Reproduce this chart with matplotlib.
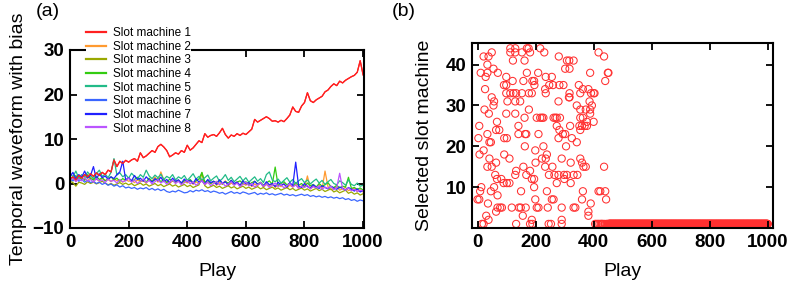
import numpy as np
import matplotlib
matplotlib.use("Agg")
import matplotlib.pyplot as plt

plt.rcParams['font.family'] = ['Liberation Sans', 'DejaVu Sans']

# ---------------- data: panel (a), values every 10 plays ----------------
labels = ["Slot machine 1", "Slot machine 2", "Slot machine 3", "Slot machine 4",
          "Slot machine 5", "Slot machine 6", "Slot machine 7", "Slot machine 8"]
colors = ["#ff2020", "#ff9a30", "#9aa800", "#33cc11", "#22bb88", "#3a66ff", "#2020ff", "#bb55ff"]

s1 = [1.0, 1.5, 0.8, 1.8, 1.2, 2.0, 1.5, 2.2, 1.6, 2.4, 1.8, 2.5, 2.0, 3.0, 2.6, 5.3, 3.8, 5.0, 4.5, 5.2,
      4.8, 5.3, 5.6, 5.0, 6.9, 5.8, 6.2, 6.8, 7.4, 7.0, 8.3, 8.8, 8.2, 7.4, 6.0, 6.4, 6.9, 6.6, 7.4, 7.0,
      8.6, 7.5, 8.0, 8.8, 9.6, 9.2, 11.2, 10.4, 10.8, 11.0, 10.6, 11.4, 12.4, 11.0, 10.2, 10.9, 10.6, 11.2, 10.8, 11.3,
      11.0, 11.6, 12.2, 14.4, 13.8, 14.2, 14.6, 15.0, 14.6, 14.0, 14.1, 13.8, 14.2, 13.9, 14.6, 15.4, 17.2, 16.2, 16.0, 17.4,
      18.2, 20.4, 18.6, 18.2, 18.8, 19.2, 19.6, 20.6, 21.0, 21.8, 22.4, 22.0, 23.0, 22.6, 23.2, 23.6, 24.0, 24.3, 25.0, 27.6,
      24.4]
s2 = [0.8, 1.2, 0.5, 1.5, 0.9, 1.1, 0.6, 1.4, 0.8, 1.0, 0.5, 1.2, 0.7, 0.9, 0.4, 1.1, 0.6, 0.8, 0.3, 0.9,
      0.5, 0.7, 0.2, 0.8, 0.4, 0.6, 0.1, 0.9, 0.5, 1.5, 0.3, 2.6, 0.8, 0.4, 0.0, 0.6, 0.2, 0.7, -0.1, 0.5,
      0.1, 0.6, -0.2, 0.4, 0.0, 0.7, -0.3, 0.3, -0.1, 0.5, -0.4, 0.2, -0.2, 0.6, -0.5, 0.1, -0.3, 0.4, -0.6, 0.0,
      -0.4, 0.3, -0.7, -0.1, -0.5, 0.2, -0.8, -0.2, -0.6, 0.1, -0.9, -0.3, -0.7, 0.0, -1.0, -0.4, -0.8, -0.1, -1.1, -0.5,
      -0.9, 1.7, -1.2, -0.6, -1.0, -0.3, -1.3, 2.8, -0.7, -1.4, -1.1, -0.8, -1.5, -1.2, -0.9, -1.6, -1.3, -1.0, -1.8, -1.4,
      -1.9]
s3 = [0.5, 0.2, -0.6, 0.3, 0.1, -0.2, 0.4, 0.0, 0.3, -0.1, 0.2, 0.5, 0.1, -0.3, 0.0, -0.4, -0.1, 0.2, -0.2, 0.1,
      -0.3, 0.0, -0.5, -0.2, 0.1, -0.4, -0.1, -0.6, -0.3, 0.0, -0.5, -0.2, -0.7, -0.4, -0.1, -0.6, -0.3, -0.8, -0.5, -0.2,
      -0.7, -0.4, -0.9, -0.6, -0.3, 2.4, -0.5, -1.0, -0.7, -0.4, -0.9, -0.6, -1.1, -0.8, -0.5, -1.0, -0.7, -1.2, -0.9, -0.6,
      -1.1, -0.8, -1.3, -1.0, -0.7, -1.2, -0.9, -1.4, -1.1, -0.8, -1.3, -1.0, -1.5, -1.2, -0.9, -1.4, -1.1, -1.6, -1.3, -1.0,
      -1.5, -1.2, -1.7, -1.4, -1.1, -1.6, -1.3, -1.8, -1.5, -1.2, -1.9, -1.6, -2.1, -1.8, -1.5, -2.2, -1.9, -2.4, -2.1, -2.6,
      -2.3]
s4 = [1.2, 0.6, 1.8, 0.9, 1.4, 0.7, 2.0, 1.1, 0.8, 1.6, 0.9, 1.3, 0.6, 1.0, 1.5, 0.8, 1.2, 0.5, 1.1, 0.7,
      1.3, 0.4, 0.9, 1.4, 0.6, 1.0, 0.3, 1.2, 0.5, 0.8, 1.1, 0.4, 0.9, 0.2, 1.0, 0.6, 0.3, 0.8, 0.1, 0.7,
      0.4, 0.9, 0.2, 0.6, 1.0, 2.5, 0.3, 0.7, 0.0, 0.5, 0.2, 0.8, -0.1, 0.4, 0.1, 0.7, -0.2, 0.3, 0.6, 0.0,
      0.4, -0.3, 0.2, 0.5, -0.1, 0.3, -0.4, 0.1, 0.6, -0.2, 3.7, -0.5, 0.0, 0.4, -0.3, 0.1, -0.6, 0.2, -0.4, 0.0,
      -0.7, 0.1, -0.5, -0.2, -0.8, 0.0, -0.6, -0.3, 0.2, -0.7, -0.9, -0.4, -1.0, -0.6, -0.8, 1.4, -1.1, -0.9, -1.3, -1.0,
      -1.5]
s5 = [2.4, 1.5, 2.8, 1.2, 2.0, 1.4, 2.6, 1.8, 1.1, 2.2, 3.0, 1.6, 2.1, 1.3, 2.5, 5.6, 1.9, 2.4, 1.5, 2.0,
      1.2, 2.3, 1.6, 1.0, 2.0, 1.4, 3.0, 1.7, 1.1, 1.9, 1.3, 2.1, 0.9, 1.6, 1.2, 2.0, 0.8, 1.5, 1.1, 1.8,
      0.7, 1.4, 2.2, 1.0, 1.6, 0.8, 1.3, 1.9, 0.6, 1.2, 1.7, 0.5, 1.1, 2.0, 0.7, 1.4, 0.4, 1.0, 1.6, 0.6,
      1.3, 0.3, 0.9, 1.5, 0.5, 1.1, 0.2, 2.0, 2.6, 0.8, 0.4, 1.0, 0.1, 0.7, 1.3, 0.3, 0.9, 0.0, 0.6, 1.1,
      0.2, 0.8, -0.1, 0.5, 1.0, 0.1, 0.7, -0.2, 0.4, 0.9, 0.0, -0.3, 0.6, 0.2, -0.4, 0.8, -0.2, -0.5, 0.1, -0.6,
      -0.4]
s6 = [1.0, 0.6, 1.4, 0.5, 0.9, 0.3, 0.7, 0.2, 0.5, 0.0, 0.3, -0.2, 0.1, -0.4, -0.1, -0.6, -0.3, -0.8, -0.5, -1.0,
      -0.8, -1.1, -0.9, -1.3, -1.0, -1.2, -0.9, -1.4, -1.1, -1.5, -1.2, -1.6, -1.3, -1.8, -2.0, -1.7, -1.9, -1.5, -1.8, -2.1,
      -2.0, -1.6, -1.9, -1.5, -1.7, -1.4, -1.8, -1.6, -2.0, -1.7, -1.9, -2.2, -2.0, -2.4, -2.1, -1.8, -2.2, -2.0, -2.3, -1.9,
      -2.1, -2.4, -2.2, -2.0, -2.5, -2.2, -2.4, -2.1, -2.5, -2.3, -2.6, -2.4, -2.2, -2.6, -2.4, -2.7, -2.5, -2.8, -2.6, -2.4,
      -2.7, -2.5, -2.9, -2.7, -3.0, -2.8, -3.1, -2.9, -3.2, -3.0, -3.3, -3.1, -3.4, -3.2, -3.6, -3.4, -3.8, -3.6, -4.0, -3.7,
      -3.9]
s7 = [1.5, 2.5, 1.0, 2.0, 1.4, 2.8, 1.2, 1.8, 3.8, 1.0, 2.2, 1.3, 1.7, 0.9, 1.5, 1.1, 2.0, 2.6, 5.0, 0.8,
      1.3, 0.6, 1.8, 0.9, 1.2, 0.5, 1.5, 0.8, 0.3, 1.1, 0.6, 1.4, 0.4, 0.9, 0.2, 1.2, 0.5, 0.8, 0.1, 1.0,
      0.4, 0.7, 0.0, 1.1, 0.3, 0.6, -0.1, 0.9, 0.2, 0.5, -0.2, 0.8, 0.1, 0.4, -0.3, 0.7, 0.0, 0.3, -0.4, 0.6,
      -0.1, 0.2, -0.5, 0.5, -0.2, 0.1, -0.6, 0.4, -0.3, 0.0, -0.7, 0.3, -0.4, -0.1, -0.8, 0.2, -0.5, 4.8, -0.6, -0.9,
      0.0, -0.7, -1.0, -0.3, -0.8, -1.1, -0.5, -0.9, -1.2, -0.6, -1.0, -1.3, -0.8, -1.1, -1.5, -0.9, -1.3, -1.7, -1.2, -1.9,
      -1.6]
s8 = [0.8, 1.2, 0.4, 1.0, 0.6, 1.3, 0.5, 0.9, 0.3, 1.1, 0.6, 0.8, 0.2, 1.0, 0.5, 0.7, 0.1, 0.9, 0.4, 0.6,
      1.2, 0.3, 0.8, 0.0, 0.5, 1.0, 0.2, 0.7, -0.1, 0.4, 0.9, 0.1, 0.6, -0.2, 0.3, 0.8, 0.0, 0.5, -0.3, 0.2,
      0.7, -0.1, 0.4, -0.4, 0.1, 0.6, -0.2, 0.3, -0.5, 0.0, 0.5, -0.3, 0.2, -0.6, -0.1, 0.4, -0.4, 0.1, -0.7, -0.2,
      0.3, -0.5, 0.0, -0.8, -0.3, 0.2, -0.6, -0.1, -0.9, -0.4, 0.1, -0.7, -0.2, -1.0, -0.5, 0.0, -0.8, -0.3, -1.1, -0.6,
      -0.9, -0.4, -1.2, -0.7, -1.0, -0.5, -1.3, -0.8, -1.1, -0.6, -1.4, -0.9, 2.3, -1.2, -1.5, -1.0, -1.6, -1.3, -1.8, -1.5,
      -1.7]
series = [s1, s2, s3, s4, s5, s6, s7, s8]

# ---------------- data: panel (b), (play, selected machine) ----------------
explore_play = [113, 130, 170, 176, 216,
                49, 113, 130, 153, 181, 230, 417,
                21, 38, 280, 436,
                122, 162, 308, 316, 331,
                34,
                55, 302, 317,
                11, 34, 70, 170, 209, 388, 449, 451,
                28, 99, 235, 256,
                121, 158, 189, 195, 440,
                91, 99, 196, 247, 260, 282, 296, 349,
                26, 233, 363, 382,
                99, 113, 124, 133, 153, 177, 187, 235, 317, 354, 391, 400, 403,
                49, 315, 317,
                57, 103, 130, 147, 279, 386,
                55, 342, 394,
                24, 177, 354, 373, 388,
                39, 99, 130, 388,
                162, 204, 216, 222, 227, 262, 268, 273, 284, 354, 363,
                67, 377, 400,
                6, 141, 273, 319, 351, 360, 369, 377,
                64, 75, 282, 354,
                34, 141, 164, 168, 210, 294, 302,
                3, 92, 101, 279, 325,
                41, 46, 342,
                163, 227, 305,
                21, 199,
                7, 92, 239,
                41, 110, 222, 235, 290, 354,
                64, 200, 321, 360,
                34, 49, 158, 233, 258, 365, 373, 436,
                133, 181,
                61, 130, 168, 246, 265, 279, 298, 308, 331, 344,
                67, 82, 187, 195, 299,
                90, 101, 110, 273, 321,
                13, 57, 195,
                9, 46, 150, 239, 363, 417, 423, 440,
                69,
                0, 6, 199, 256, 262, 360, 443,
                36, 390,
                69, 78, 84, 118, 143, 149, 166, 204, 210, 242, 290, 331, 337,
                64, 382,
                30, 156, 382,
                38, 187, 290,
                15, 21, 133, 181, 189, 245, 253, 290, 405, 410, 415, 420, 425, 428, 432, 438, 445, 448]
explore_machine = ([44] * 5 + [43] * 7 + [42] * 4 + [41] * 5 + [40] * 1 + [39] * 3 + [38] * 8 +
                   [37] * 4 + [36] * 5 + [35] * 8 + [34] * 4 + [33] * 13 + [32] * 3 + [31] * 6 +
                   [30] * 3 + [29] * 5 + [28] * 4 + [27] * 11 + [26] * 3 + [25] * 8 + [24] * 4 +
                   [23] * 7 + [22] * 5 + [21] * 3 + [20] * 3 + [19] * 2 + [18] * 3 + [17] * 6 +
                   [16] * 4 + [15] * 8 + [14] * 2 + [13] * 10 + [12] * 5 + [11] * 5 + [10] * 3 +
                   [9] * 8 + [8] * 1 + [7] * 7 + [6] * 2 + [5] * 13 + [4] * 2 + [3] * 3 + [2] * 3 +
                   [1] * 18)
converged_first_play = 452
converged_machine = 1

# ---------------- figure ----------------
fig = plt.figure(figsize=(7.89, 2.83), dpi=100)
W, H = 789, 283
axa = fig.add_axes([70 / W, 1 - 228 / H, 294 / W, 178 / H])
axb = fig.add_axes([472 / W, 1 - 228 / H, 301 / W, 185 / H])

FS = 14

for s, c, lab in zip(series, colors, labels):
    x = np.linspace(0, 1000, len(s))
    axa.plot(x, s, color=c, lw=0.9, label=lab)
axa.plot(np.linspace(0, 1000, len(s1)), s1, color=colors[0], lw=0.9)

axa.set_xlim(0, 1003)
axa.set_ylim(-10, 30)
axa.set_xticks([0, 200, 400, 600, 800, 1000])
axa.set_yticks([-10, 0, 10, 20, 30])
axa.set_xlabel("Play", fontsize=FS, labelpad=9)
axa.set_ylabel("Temporal waveform with bias", fontsize=FS, labelpad=4)

leg = axa.legend(loc="upper left", bbox_to_anchor=(86 / W, 1 - 27 / H),
                 bbox_transform=fig.transFigure, frameon=True, fancybox=False,
                 facecolor="white", edgecolor="none", framealpha=1.0, fontsize=8.5,
                 handlelength=1.7, handletextpad=0.6, labelspacing=0.14,
                 borderpad=0, borderaxespad=0)
leg.set_zorder(10)
for ln in leg.get_lines():
    ln.set_linewidth(1.6)

xs = list(explore_play) + list(range(converged_first_play, 1001))
ys = list(explore_machine) + [converged_machine] * (1001 - converged_first_play)
axb.scatter(xs, ys, s=27, facecolors="none", edgecolors="#ff3030", linewidths=0.75, clip_on=False)
axb.set_xlim(-19, 1018)
axb.set_ylim(0, 45.3)
axb.set_xticks([0, 200, 400, 600, 800, 1000])
axb.set_yticks([10, 20, 30, 40])
axb.set_xlabel("Play", fontsize=FS, labelpad=9)
axb.set_ylabel("Selected slot machine", fontsize=FS, labelpad=9)

for ax in (axa, axb):
    ax.tick_params(direction="in", top=True, right=True, length=5, width=1.3,
                   labelsize=13.5, pad=4)
    for lbl in ax.get_xticklabels() + ax.get_yticklabels():
        lbl.set_fontweight("bold")
    for sp in ax.spines.values():
        sp.set_linewidth(1.5)

fig.text(36 / W, 1 - 12 / H, "(a)", fontsize=14, va="center", ha="left")
fig.text(392 / W, 1 - 12 / H, "(b)", fontsize=14, va="center", ha="left")

fig.savefig("out.png", dpi=100)
